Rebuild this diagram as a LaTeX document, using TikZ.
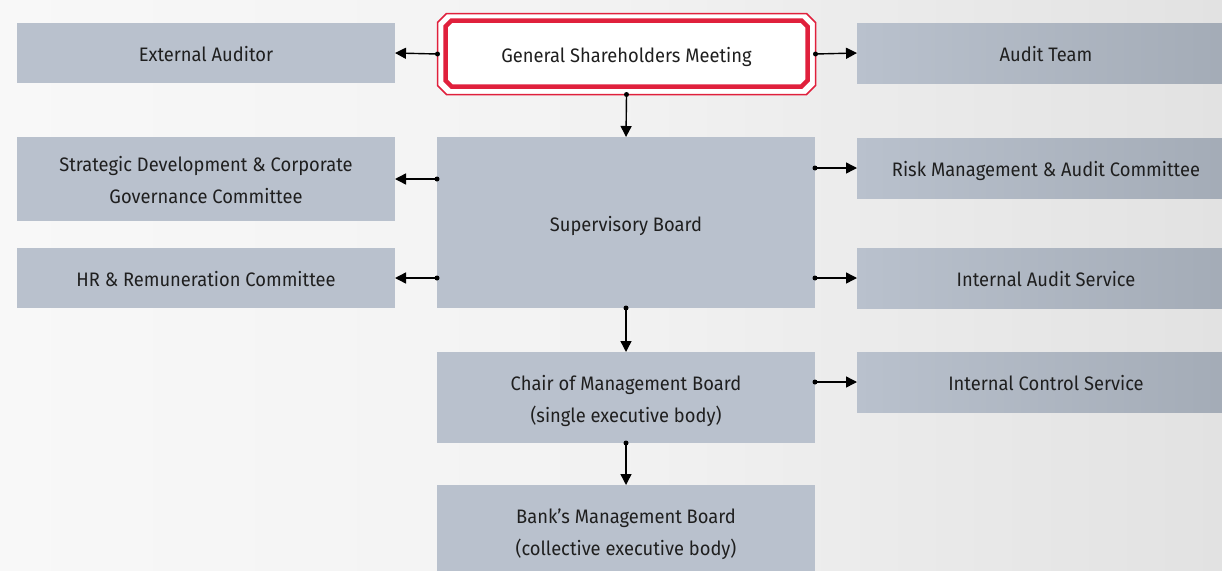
\documentclass[tikz,border=0pt]{standalone}
\usepackage{fontspec}
\setmainfont{Fira Sans}[FakeStretch=0.94]
\usetikzlibrary{arrows.meta}
\definecolor{boxc}{HTML}{B9C1CD}
\definecolor{boxd}{HTML}{A3ABB6}
\definecolor{redc}{HTML}{E0203C}
\definecolor{txt}{HTML}{1F1F1F}
\definecolor{bgl}{HTML}{F8F8F8}
\definecolor{bgm}{HTML}{F2F2F2}
\definecolor{bgr}{HTML}{E2E2E2}
\newcommand\boxtxt[1]{\raisebox{-2.5pt}[\height][\depth]{\begin{tabular}{@{}c@{}}#1\end{tabular}}}
\tikzset{
  box/.style={rectangle, fill=boxc, draw=none, inner sep=0pt, outer sep=0pt,
    text=txt, font=\fontsize{19.5}{32}\selectfont},
  rbox/.style={box, fill=none},
  conn/.style={line width=1.4pt, -{Triangle[length=11pt,width=11pt]}},
  dot/.style={fill=black}
}
\begin{document}
\begin{tikzpicture}[x=1pt,y=-1pt]
\useasboundingbox (0,0) rectangle (1222,570);
\begin{scope}
\clip (0,0) rectangle (1222,570);
\shade[left color=bgl, right color=bgr, middle color=bgm] (0,0) rectangle (1222,570);
% right boxes gradient backgrounds (they run past the right edge)
\foreach \yt/\yb in {23/83, 138/198, 248/308, 352/412}{
  \shade[left color=boxc, right color=boxd] (857,\yt) rectangle (1235,\yb);
}
\node[box, minimum width=378pt, minimum height=60pt] (ext) at (206,53) {\boxtxt{External Auditor}};
\node[rbox, minimum width=378pt, minimum height=60pt] (audit) at (1046,53) {\boxtxt{Audit Team}};
% GSM double chamfered frame
\filldraw[draw=redc, fill=white, line width=1.5pt]
  (446.5,13.5) -- (806.5,13.5) -- (815.5,22.5) -- (815.5,85.5) -- (806.5,94.5)
  -- (446.5,94.5) -- (437.5,85.5) -- (437.5,22.5) -- cycle;
\draw[draw=redc, line width=4.5pt, line join=miter]
  (451.5,20.5) -- (801.5,20.5) -- (807.5,26.5) -- (807.5,80.5) -- (801.5,86.5)
  -- (451.5,86.5) -- (445.5,80.5) -- (445.5,26.5) -- cycle;
\node[rbox, minimum width=378pt, minimum height=81pt] (gsm) at (626.5,54) {\boxtxt{General Shareholders Meeting}};
\node[box, minimum width=378pt, minimum height=171pt] (sb) at (626,222.5) {\boxtxt{Supervisory Board}};
\node[box, minimum width=378pt, minimum height=84pt] (strat) at (206,179) {\boxtxt{Strategic Development \& Corporate\\Governance Committee}};
\node[box, minimum width=378pt, minimum height=60pt] (hr) at (206,278) {\boxtxt{HR \& Remuneration Committee}};
\node[rbox, minimum width=378pt, minimum height=60pt] (risk) at (1046,168) {\boxtxt{Risk Management \& Audit Committee}};
\node[rbox, minimum width=378pt, minimum height=60pt] (ias) at (1046,278) {\boxtxt{Internal Audit Service}};
\node[box, minimum width=378pt, minimum height=91pt] (chair) at (626,397.5) {\boxtxt{Chair of Management Board\\(single executive body)}};
\node[rbox, minimum width=378pt, minimum height=60pt] (ics) at (1046,382) {\boxtxt{Internal Control Service}};
\node[box, minimum width=378pt, minimum height=92pt] (bank) at (626,531) {\boxtxt{Bank’s Management Board\\(collective executive body)}};
% connectors
\draw[conn] (gsm.west) -- (ext.east);
\fill[dot] (gsm.west) circle (2.5pt);
\draw[conn] (gsm.east) -- (audit.west);
\fill[dot] (gsm.east) circle (2.5pt);
\draw[conn] (gsm.south) -- (sb.north);
\fill[dot] (gsm.south) circle (2.5pt);
\draw[conn] (sb.west |- strat.east) -- (strat.east);
\fill[dot] (sb.west |- strat.east) circle (2.5pt);
\draw[conn] (sb.west |- hr.east) -- (hr.east);
\fill[dot] (sb.west |- hr.east) circle (2.5pt);
\draw[conn] (sb.east |- risk.west) -- (risk.west);
\fill[dot] (sb.east |- risk.west) circle (2.5pt);
\draw[conn] (sb.east |- ias.west) -- (ias.west);
\fill[dot] (sb.east |- ias.west) circle (2.5pt);
\draw[conn] (sb.south) -- (chair.north);
\fill[dot] (sb.south) circle (2.5pt);
\draw[conn] (chair.east |- ics.west) -- (ics.west);
\fill[dot] (chair.east |- ics.west) circle (2.5pt);
\draw[conn] (chair.south) -- (bank.north);
\fill[dot] (chair.south) circle (2.5pt);
\end{scope}
\end{tikzpicture}
\end{document}
